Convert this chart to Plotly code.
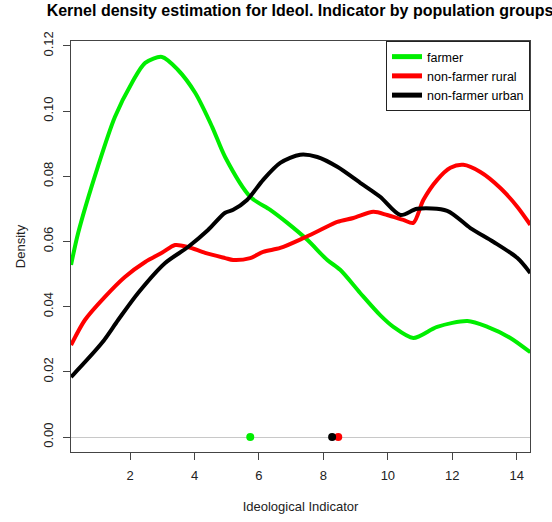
import plotly.graph_objects as go

# ---- data ----
farmer_x = [0.17, 0.39, 1.0, 1.53, 2.06, 2.47, 2.99, 3.49, 4.02, 4.55, 4.95, 5.73, 6.35, 6.88,
            7.5, 8.12, 8.52, 9.14, 9.76, 10.17, 10.79, 11.53, 12.47, 13.09, 13.8, 14.42]
farmer_y = [0.0528, 0.0626, 0.0829, 0.0982, 0.1087, 0.1148, 0.1166, 0.1126, 0.1056, 0.0951,
            0.0859, 0.0737, 0.0697, 0.0657, 0.0605, 0.0543, 0.0513, 0.0442, 0.0374, 0.0338,
            0.0304, 0.0338, 0.0356, 0.0338, 0.0304, 0.0260]

rural_x = [0.17, 0.6, 1.22, 1.84, 2.47, 2.99, 3.4, 3.8, 4.33, 4.95, 5.2, 5.73, 6.13, 6.66,
           7.37, 7.9, 8.43, 8.93, 9.55, 9.98, 10.48, 10.79, 11.1, 11.53, 11.94, 12.34,
           12.87, 13.49, 14.02, 14.42]
rural_y = [0.0282, 0.0359, 0.0430, 0.0491, 0.0537, 0.0565, 0.0589, 0.0583, 0.0565, 0.0549,
           0.0543, 0.0549, 0.0568, 0.0580, 0.0610, 0.0635, 0.0660, 0.0672, 0.0691, 0.0681,
           0.0666, 0.0657, 0.0727, 0.0789, 0.0826, 0.0835, 0.0813, 0.0764, 0.0706, 0.0651]

urban_x = [0.17, 1.13, 1.63, 2.25, 3.09, 3.8, 4.42, 4.95, 5.2, 5.63, 6.13, 6.66, 7.28, 7.81,
           8.43, 9.14, 9.76, 10.39, 10.91, 11.84, 12.56, 13.27, 14.02, 14.42]
urban_y = [0.0184, 0.0289, 0.0359, 0.0442, 0.0534, 0.0583, 0.0635, 0.0688, 0.0697, 0.0727,
           0.0789, 0.0841, 0.0866, 0.0859, 0.0829, 0.0780, 0.0737, 0.0681, 0.0700, 0.0694,
           0.0641, 0.0599, 0.0549, 0.0503]

group_names = ["farmer", "non-farmer rural", "non-farmer urban"]
group_colors = ["#00ee00", "#ff0000", "#000000"]
group_means = [5.73, 8.46, 8.27]

x_ticks = [2, 4, 6, 8, 10, 12, 14]
y_ticks = [0.00, 0.02, 0.04, 0.06, 0.08, 0.10, 0.12]
y_tick_labels = ["0.00", "0.02", "0.04", "0.06", "0.08", "0.10", "0.12"]

FONT = "Liberation Sans, Arial, sans-serif"

fig = go.Figure()
curves = [(farmer_x, farmer_y), (rural_x, rural_y), (urban_x, urban_y)]
for (xs, ys), name, col in zip(curves, group_names, group_colors):
    fig.add_trace(go.Scatter(x=xs, y=ys, mode="lines", name=name,
                             line=dict(color=col, width=4, shape="spline", smoothing=0.8)))
for m, col in zip(group_means, group_colors):
    fig.add_trace(go.Scatter(x=[m], y=[0], mode="markers", showlegend=False,
                             marker=dict(color=col, size=8)))

fig.update_layout(
    width=552, height=522,
    margin=dict(l=71, r=22, t=41, b=70, autoexpand=False),
    paper_bgcolor="white", plot_bgcolor="white",
    font=dict(family=FONT, size=13, color="#222"),
    title=dict(text="<b>Kernel density estimation for Ideol. Indicator by population groups</b>",
               x=300 / 552, xref="container", xanchor="center", y=0.99, yanchor="top",
               yref="container",
               font=dict(family=FONT, size=16, color="#000")),
    legend=dict(x=1, y=1, xanchor="right", yanchor="top", bgcolor="white",
                bordercolor="#222", borderwidth=1, font=dict(size=12.5, color="#000"),
                tracegroupgap=0, itemsizing="constant"),
    showlegend=True,
)
fig.update_xaxes(range=[0.168, 14.41], tickvals=x_ticks, ticks="outside", ticklen=7,
                 tickcolor="#444", showline=True, linecolor="#444", linewidth=1, mirror=True,
                 showgrid=False, zeroline=False, ticklabelstandoff=4, automargin=False,
                 title=dict(text="Ideological Indicator", standoff=20, font=dict(size=13)))
fig.update_yaxes(range=[-0.0046, 0.1215], tickvals=y_ticks, ticktext=y_tick_labels,
                 tickangle=-90, ticks="outside", ticklen=7, tickcolor="#444",
                 showline=True, linecolor="#444", linewidth=1, mirror=True, showgrid=False,
                 zeroline=True, zerolinecolor="#c8c8c8", zerolinewidth=1, ticklabelstandoff=5,
                 automargin=False,
                 title=dict(text="Density", standoff=12, font=dict(size=13)))

fig.write_html(
    "out.html",
    config={"displayModeBar": False},
    post_script=("document.body.style.margin='0';"
                 "document.body.style.overflow='hidden';"
                 "document.documentElement.style.overflow='hidden';"),
)
